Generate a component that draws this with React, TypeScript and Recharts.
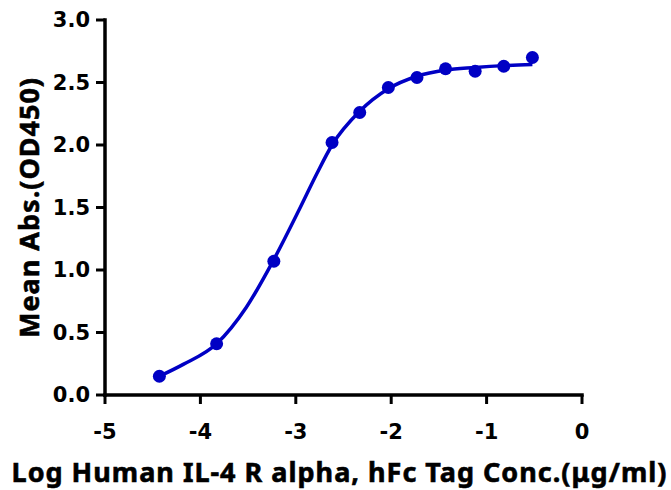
import React from 'react';
import { ComposedChart, Line, Scatter, XAxis, YAxis, Label, ReferenceLine } from 'recharts';

// measured points (log conc, OD450)
const logConc = [-4.43, -3.83, -3.23, -2.62, -2.33, -2.03, -1.73, -1.43, -1.12, -0.82, -0.52];
const meanAbs = [0.15, 0.41, 1.07, 2.02, 2.26, 2.46, 2.54, 2.61, 2.59, 2.63, 2.70];

// fitted curve
const fitX = [-4.43, -4.18, -3.83, -3.52, -3.24, -2.96, -2.78, -2.62, -2.33, -2.03, -1.73, -1.43, -1.12, -0.82, -0.52];
const fitY = [0.15, 0.245, 0.41, 0.70, 1.07, 1.49, 1.77, 2.0, 2.27, 2.45, 2.55, 2.6, 2.62, 2.635, 2.645];

const xTicks = [-5, -4, -3, -2, -1, 0];
const yTicks = [0, 0.5, 1.0, 1.5, 2.0, 2.5, 3.0];

const points = logConc.map((x, i) => ({ x, y: meanAbs[i] }));
const curve = fitX.map((x, i) => ({ x, y: fitY[i] }));

const BLUE = '#0000C4';
const FONT = '"Noto Sans", sans-serif';

const tickStyle = {
  fontFamily: '"DejaVu Sans", sans-serif',
  fontWeight: 700,
  fontSize: 21,
  fill: '#000',
};

const titleStyle = {
  fontFamily: FONT,
  fontWeight: 700,
  fontSize: 27,
  letterSpacing: 1,
  fill: '#000',
  stroke: '#000',
  strokeWidth: 0.6,
};

// plain SVG segment used as the axis line shape
const AxisShape = (props: any) => (
  <line x1={props.x1} y1={props.y1} x2={props.x2} y2={props.y2} stroke="#000" strokeWidth={3.5} strokeLinecap="square" />
);

const App: React.FC = () => {
  return (
    <div style={{ position: 'absolute', left: 0, top: 0, background: '#fff' }}>
      <ComposedChart width={671} height={490} margin={{ top: 20, right: 89, bottom: 0, left: 25 }}>
        <XAxis
          dataKey="x"
          type="number"
          domain={[-5, 0]}
          ticks={xTicks}
          allowDataOverflow
          height={95}
          axisLine={false}
          tickLine={{ stroke: '#000', strokeWidth: 3 }}
          tickSize={9}
          tickMargin={20}
          tick={tickStyle}
        >
          <Label
            content={(props: any) => {
              const vb = props.viewBox;
              return (
                <text
                  x={vb.x + vb.width / 2 - 4}
                  y={vb.y + vb.height - 8}
                  textAnchor="middle"
                  style={titleStyle}
                >
                  Log Human IL-4 R alpha, hFc Tag Conc.(μg/ml)
                </text>
              );
            }}
          />
        </XAxis>
        <YAxis
          dataKey="y"
          type="number"
          domain={[0, 3]}
          ticks={yTicks}
          width={80}
          axisLine={false}
          tickLine={{ stroke: '#000', strokeWidth: 3 }}
          tickSize={9}
          tickMargin={6}
          tick={tickStyle}
          tickFormatter={(v: number) => v.toFixed(1)}
        >
          <Label
            content={(props: any) => {
              const vb = props.viewBox;
              const cx = 28;
              const cy = vb.y + vb.height / 2;
              return (
                <text
                  x={cx}
                  y={cy}
                  textAnchor="middle"
                  dominantBaseline="central"
                  transform={`rotate(-90 ${cx} ${cy})`}
                  style={titleStyle}
                >
                  Mean Abs.(OD450)
                </text>
              );
            }}
          />
        </YAxis>
        {/* axis lines */}
        <ReferenceLine x={-5} ifOverflow="visible" shape={AxisShape} />
        <ReferenceLine y={0} ifOverflow="visible" shape={AxisShape} />
        <Line
          data={curve}
          dataKey="y"
          type="monotone"
          stroke={BLUE}
          strokeWidth={3.5}
          dot={false}
          isAnimationActive={false}
        />
        <Scatter
          data={points}
          dataKey="y"
          fill={BLUE}
          shape={(p: any) => <circle cx={p.cx} cy={p.cy} r={6.5} fill={BLUE} />}
          isAnimationActive={false}
        />
      </ComposedChart>
    </div>
  );
};

export default App;
